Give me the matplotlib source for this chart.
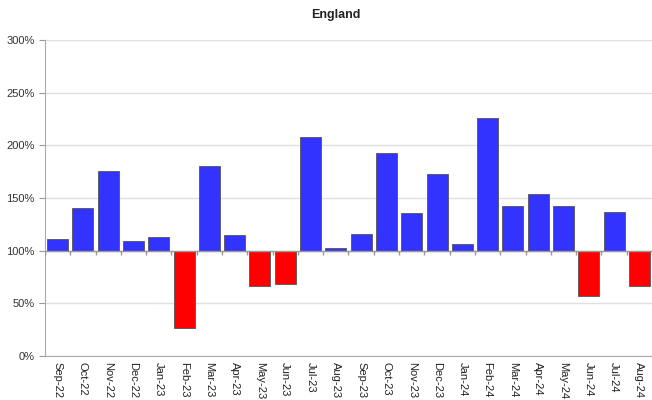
import matplotlib
matplotlib.use("Agg")
import matplotlib.pyplot as plt
from matplotlib.ticker import FuncFormatter
import numpy as np

plt.rcParams["font.family"] = ["Liberation Sans", "DejaVu Sans"]

months = ["Sep-22", "Oct-22", "Nov-22", "Dec-22", "Jan-23", "Feb-23", "Mar-23", "Apr-23",
          "May-23", "Jun-23", "Jul-23", "Aug-23", "Sep-23", "Oct-23", "Nov-23", "Dec-23",
          "Jan-24", "Feb-24", "Mar-24", "Apr-24", "May-24", "Jun-24", "Jul-24", "Aug-24"]
values = [111, 140.5, 175.5, 109, 113, 26.5, 180, 115, 66, 68.5, 208, 102.5,
          116, 193, 136, 173, 106, 225.5, 142, 154, 142, 57, 137, 66]
baseline = 100
y_ticks = [0, 50, 100, 150, 200, 250, 300]

fig = plt.figure(figsize=(6.52, 4.0), dpi=100)
ax = fig.add_axes([0.069, 0.11, 0.931, 0.79])

x = np.arange(len(months))
vals = np.array(values)
colors = ["#3333FF" if v >= baseline else "#FF0000" for v in vals]
ax.bar(x, vals - baseline, bottom=baseline, width=0.83, color=colors,
       edgecolor="#555555", linewidth=0.6, zorder=3)

ax.set_xlim(-0.5, len(months) - 0.5)
ax.set_ylim(0, 300)
ax.set_yticks(y_ticks)
ax.yaxis.set_major_formatter(FuncFormatter(lambda v, p: f"{int(v)}%"))
ax.grid(axis="y", color="#e0e0e0", linewidth=1.0, zorder=0)
ax.set_axisbelow(True)

# baseline axis at 100% with ticks at category boundaries
ax.axhline(baseline, color="#999999", linewidth=1.0, zorder=4)
bounds = np.arange(len(months) + 1) - 0.5
ax.vlines(bounds, baseline - 4, baseline, color="#999999", linewidth=1.0, zorder=4)

ax.set_xticks(x)
ax.set_xticklabels(months, rotation=-90, fontsize=8, color="#222222")
ax.tick_params(axis="x", length=0, pad=4)
ax.tick_params(axis="y", labelsize=8, labelcolor="#333333", length=4, color="#999999")

for s in ["top", "right"]:
    ax.spines[s].set_visible(False)
ax.spines["left"].set_color("#aaaaaa")
ax.spines["bottom"].set_color("#aaaaaa")

fig.text(0.515, 0.962, "England", ha="center", va="center", fontsize=9,
         fontweight="bold", color="#222222")

fig.savefig("out.png", dpi=100, facecolor="white")
